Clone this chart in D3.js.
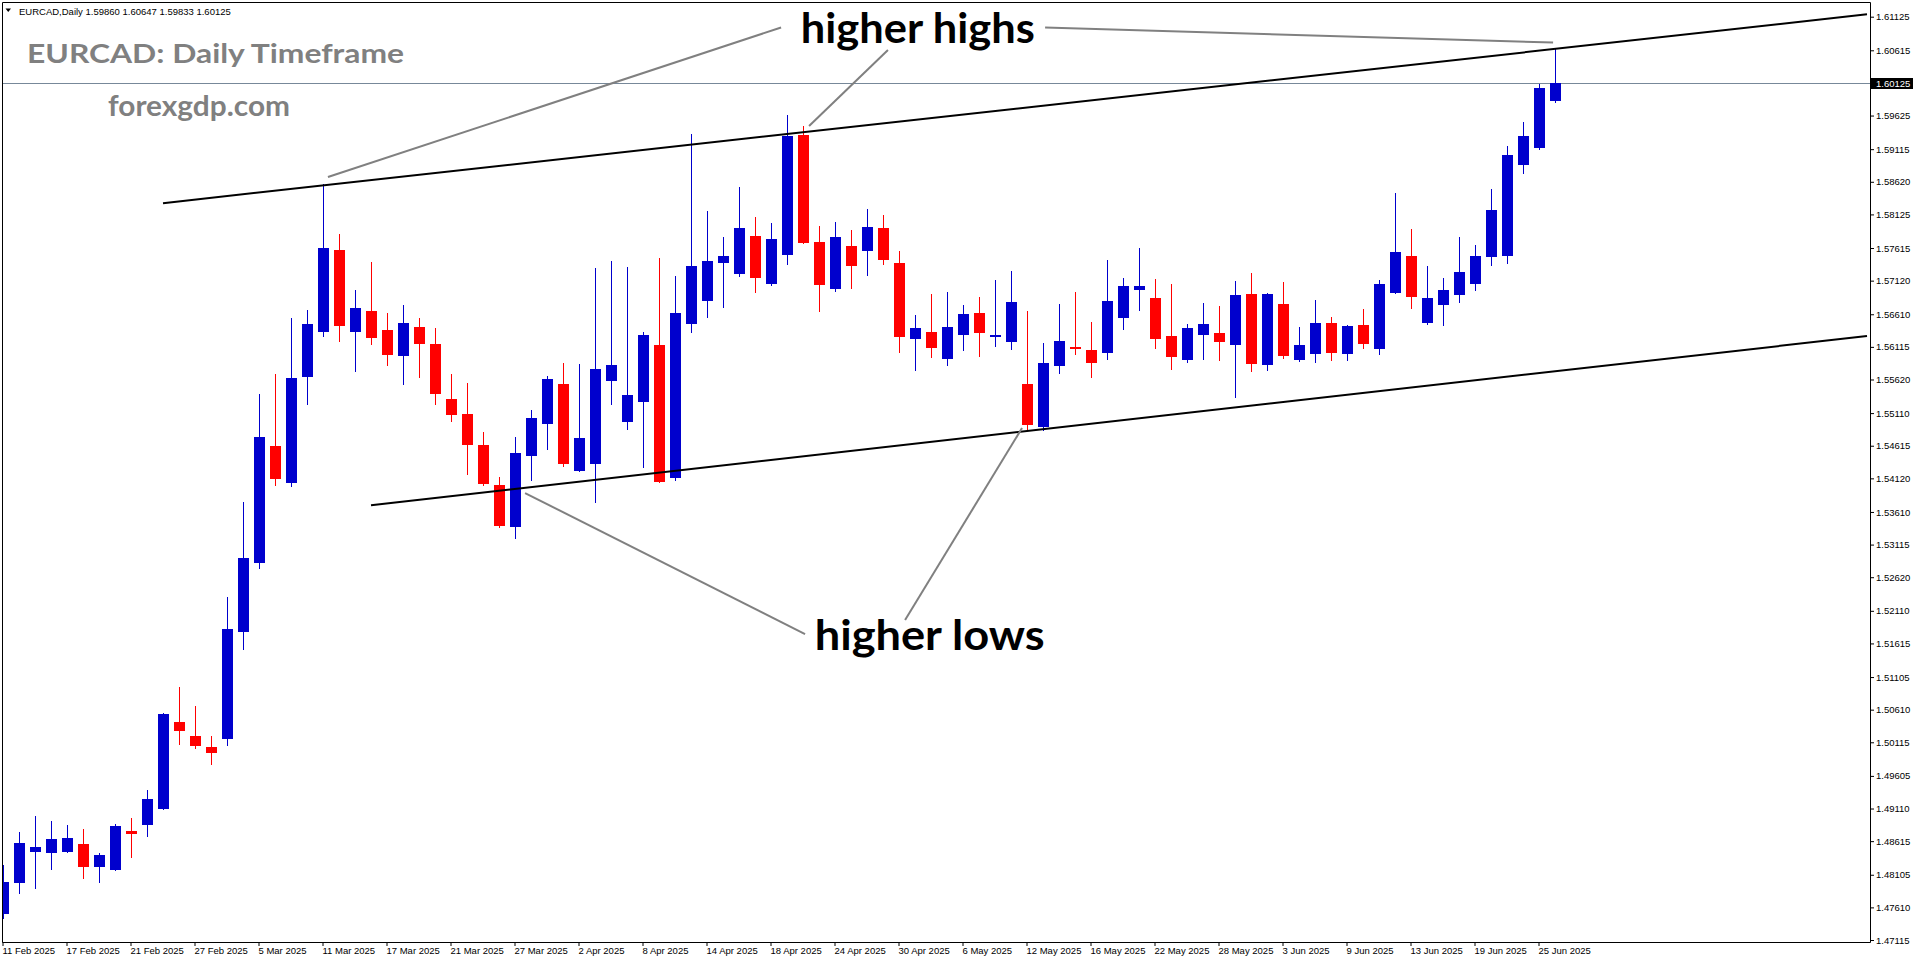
<!DOCTYPE html>
<html><head><meta charset="utf-8">
<script src="https://cdn.jsdelivr.net/npm/d3@7/dist/d3.min.js"></script>
<style>html,body{margin:0;padding:0;background:#fff;overflow:hidden}</style>
</head><body>
<svg id="chart" width="1916" height="964"></svg>
<script>
// ---------------- DATA ----------------
const headerText = "EURCAD,Daily  1.59860 1.60647 1.59833 1.60125";
const titleText = "EURCAD: Daily Timeframe";
const siteText = "forexgdp.com";

const open = [1.47528,1.47998,1.48469,1.48454,1.48469,1.48570,1.48241,1.48196,1.48768,1.48878,
1.49121,1.50422,1.50209,1.50042,1.50179,1.51810,1.52853,1.54610,1.54071,1.55680,
1.56361,1.57584,1.56361,1.56659,1.56370,1.55998,1.56416,1.56158,1.55323,1.55096,
1.54625,1.54018,1.53401,1.54478,1.54964,1.55551,1.54250,1.54357,1.55616,1.54994,
1.55297,1.56143,1.54144,1.56481,1.56826,1.57402,1.57235,1.57797,1.57084,1.57524,
1.59329,1.57706,1.57008,1.57645,1.57584,1.57918,1.57387,1.56249,1.56340,1.55945,
1.56310,1.56628,1.56284,1.56208,1.55551,1.54913,1.55839,1.56112,1.56067,1.56036,
1.56568,1.56992,1.56856,1.56279,1.55930,1.56310,1.56325,1.56158,1.56917,1.55854,
1.56765,1.55930,1.56021,1.56477,1.56021,1.56446,1.56097,1.56947,1.57493,1.56492,
1.56765,1.56917,1.57084,1.57493,1.57508,1.58889,1.59147,1.59860];

const high = [1.48252,1.48752,1.48995,1.48919,1.48859,1.48798,1.48434,1.48874,1.48965,1.49390,
1.50558,1.50953,1.50664,1.50209,1.52320,1.53757,1.55398,1.55701,1.56552,1.56674,
1.58586,1.57830,1.56977,1.57404,1.56627,1.56750,1.56552,1.56396,1.55703,1.55561,
1.54822,1.54140,1.54747,1.55156,1.55672,1.55870,1.55854,1.57311,1.57417,1.57326,
1.56340,1.57463,1.57190,1.59345,1.58176,1.57782,1.58540,1.58085,1.57994,1.59633,
1.59466,1.57948,1.58009,1.57888,1.58206,1.58115,1.57569,1.56598,1.56917,1.56947,
1.56750,1.56871,1.57129,1.57266,1.56659,1.56173,1.56765,1.56947,1.56492,1.57433,
1.57159,1.57615,1.57144,1.57068,1.56461,1.56780,1.56734,1.57114,1.57235,1.56932,
1.57099,1.56416,1.56826,1.56568,1.56446,1.56689,1.57129,1.58449,1.57903,1.57341,
1.57159,1.57782,1.57660,1.58510,1.59162,1.59527,1.60103,1.60647];

const low = [1.47447,1.47831,1.47907,1.48196,1.48454,1.48059,1.47998,1.48176,1.48378,1.48696,
1.49101,1.50092,1.50032,1.49784,1.50073,1.51533,1.52757,1.54024,1.54008,1.55253,
1.56285,1.56206,1.55754,1.56164,1.55844,1.55557,1.55662,1.55252,1.54994,1.54190,
1.54023,1.53385,1.53218,1.54099,1.54569,1.54311,1.54231,1.53765,1.55252,1.54872,
1.54296,1.54068,1.54099,1.56344,1.56568,1.56719,1.57190,1.56947,1.57053,1.57372,
1.57690,1.56659,1.56962,1.57008,1.57205,1.57372,1.56036,1.55763,1.55961,1.55839,
1.56067,1.55976,1.56127,1.56087,1.54868,1.54853,1.55718,1.56006,1.55662,1.55930,
1.56385,1.56674,1.56097,1.55778,1.55885,1.55930,1.55915,1.55354,1.55748,1.55763,
1.55945,1.55900,1.55885,1.55915,1.55915,1.56097,1.56006,1.56932,1.56704,1.56461,
1.56446,1.56795,1.56977,1.57357,1.57387,1.58753,1.59117,1.59833];

const close = [1.47994,1.48586,1.48525,1.48646,1.48661,1.48241,1.48403,1.48843,1.48737,1.49253,
1.50543,1.50305,1.50077,1.49966,1.51831,1.52912,1.54748,1.54130,1.55642,1.56461,
1.57616,1.56451,1.56707,1.56270,1.56009,1.56478,1.56178,1.55419,1.55100,1.54645,
1.54053,1.53416,1.54504,1.55035,1.55627,1.54357,1.54731,1.55778,1.55839,1.55384,
1.56294,1.54083,1.56628,1.57341,1.57417,1.57493,1.57918,1.57175,1.57751,1.59314,
1.57706,1.57068,1.57782,1.57357,1.57933,1.57448,1.56279,1.56401,1.56112,1.56416,
1.56613,1.56340,1.56294,1.56795,1.54944,1.55870,1.56203,1.56102,1.55885,1.56810,
1.57038,1.57038,1.56249,1.55976,1.56401,1.56461,1.56203,1.56901,1.55870,1.56917,
1.55991,1.56143,1.56477,1.56036,1.56431,1.56173,1.57068,1.57554,1.56886,1.56856,
1.56977,1.57250,1.57493,1.58191,1.59026,1.59314,1.60043,1.60125];

// trading days (weekdays) 11 Feb 2025 .. 26 Jun 2025
const dates = d3.timeDay.range(new Date(2025,1,11), new Date(2025,5,27))
  .filter(d => d.getDay() !== 0 && d.getDay() !== 6);

const xTickLabels = ["11 Feb 2025","17 Feb 2025","21 Feb 2025","27 Feb 2025","5 Mar 2025","11 Mar 2025",
"17 Mar 2025","21 Mar 2025","27 Mar 2025","2 Apr 2025","8 Apr 2025","14 Apr 2025","18 Apr 2025",
"24 Apr 2025","30 Apr 2025","6 May 2025","12 May 2025","16 May 2025","22 May 2025","28 May 2025",
"3 Jun 2025","9 Jun 2025","13 Jun 2025","19 Jun 2025","25 Jun 2025"];
const xTickIndex = xTickLabels.map((_, k) => k * 4);

const yTickLabels = ["1.61125","1.60615","1.59625","1.59115","1.58620","1.58125","1.57615","1.57120",
"1.56610","1.56115","1.55620","1.55110","1.54615","1.54120","1.53610","1.53115","1.52620","1.52110",
"1.51615","1.51105","1.50610","1.50115","1.49605","1.49110","1.48615","1.48105","1.47610","1.47115"];

const currentPrice = 1.60125;

// channel trendlines: anchor (bar index, price), extended to the right
const trendLines = [
  {i1: 10, p1: 1.58296, i2: 97, p2: 1.60636},
  {i1: 23, p1: 1.53713, i2: 97, p2: 1.55744}
];
// grey pointer lines (bar index, price)
const pointers = [
  {i1: 20.31, p1: 1.58692, i2: 48.63, p2: 1.60961},
  {i1: 55.31, p1: 1.60619, i2: 50.38, p2: 1.59466},
  {i1: 65.13, p1: 1.60961, i2: 96.88, p2: 1.60733},
  {i1: 50.13, p1: 1.51757, i2: 32.63, p2: 1.53897},
  {i1: 56.38, p1: 1.51970, i2: 63.69, p2: 1.54883}
];
const annotations = [
  {text: "higher highs", i: 49.86, p: 1.60721, len: 234},
  {text: "higher lows",  i: 50.73, p: 1.51514, len: 230}
];

// ---------------- DRAW ----------------
const W = 1916, H = 964;
const L = 3, R = 1870, T = 3, B = 942;
const svg = d3.select("#chart");
const axisFont = "'Liberation Sans', Arial, sans-serif";

const x = d3.scaleBand().domain(dates).range([-5, -5 + 16 * dates.length]).padding(0);
const xi = d3.scaleLinear().domain([0, dates.length]).range([-5 + 8, -5 + 8 + 16 * dates.length]);
const y = d3.scaleLinear().domain([1.47115, 1.61125]).range([940, 16.7]);

svg.append("rect").attr("width", W).attr("height", H).attr("fill", "#fff");

svg.append("defs").append("clipPath").attr("id", "plot")
  .append("rect").attr("x", L).attr("y", T).attr("width", R - L).attr("height", B - T);

const plot = svg.append("g").attr("clip-path", "url(#plot)");

// current price line
plot.append("line").attr("x1", L).attr("x2", R)
  .attr("y1", Math.round(y(currentPrice)) + 0.5).attr("y2", Math.round(y(currentPrice)) + 0.5)
  .attr("stroke", "#778899").attr("stroke-width", 1);

// candles
const candles = dates.map((d, i) => ({d, o: open[i], h: high[i], l: low[i], c: close[i]}));
const cg = plot.append("g");
candles.forEach(k => {
  const cx = x(k.d) + x.bandwidth() / 2;
  const col = k.c >= k.o ? "#0000CD" : "#FF0000";
  const yh = Math.round(y(k.h)), yl = Math.round(y(k.l));
  const yt = Math.round(y(Math.max(k.o, k.c))), yb = Math.round(y(Math.min(k.o, k.c)));
  cg.append("rect").attr("x", cx).attr("y", yh).attr("width", 1).attr("height", Math.max(1, yl - yh + 1)).attr("fill", col);
  cg.append("rect").attr("x", cx - 5).attr("y", yt).attr("width", 11).attr("height", Math.max(1, yb - yt + 1)).attr("fill", col);
});

// trendlines
trendLines.forEach(t => {
  const slope = (t.p2 - t.p1) / (t.i2 - t.i1);
  const iEnd = xi.invert(R + 5) - 0.5;
  plot.append("line")
    .attr("x1", xi(t.i1)).attr("y1", y(t.p1))
    .attr("x2", xi(iEnd)).attr("y2", y(t.p1 + slope * (iEnd - t.i1)))
    .attr("stroke", "#000").attr("stroke-width", 2);
});

// pointers
pointers.forEach(p => {
  plot.append("line")
    .attr("x1", xi(p.i1)).attr("y1", y(p.p1)).attr("x2", xi(p.i2)).attr("y2", y(p.p2))
    .attr("stroke", "#808080").attr("stroke-width", 2);
});

// annotation texts
annotations.forEach(a => {
  plot.append("text").attr("x", xi(a.i)).attr("y", y(a.p))
    .attr("font-family", "Lato, 'Open Sans', sans-serif").attr("font-weight", 700)
    .attr("font-size", 42).attr("fill", "#000")
    .attr("textLength", a.len).attr("lengthAdjust", "spacingAndGlyphs")
    .text(a.text);
});

// title & site
svg.append("text").attr("x", 27).attr("y", 63)
  .attr("font-family", "Lato, sans-serif").attr("font-weight", 700).attr("font-size", 27)
  .attr("fill", "#808080").attr("textLength", 377).attr("lengthAdjust", "spacingAndGlyphs").text(titleText);
svg.append("text").attr("x", 108).attr("y", 116)
  .attr("font-family", "Lato, sans-serif").attr("font-weight", 700).attr("font-size", 28)
  .attr("fill", "#808080").attr("textLength", 182).attr("lengthAdjust", "spacingAndGlyphs").text(siteText);

// header
svg.append("path").attr("d", "M5.5,8.5 L11,8.5 L8.25,12 Z").attr("fill", "#000");
svg.append("text").attr("x", 19).attr("y", 14.5).attr("font-family", axisFont)
  .attr("font-size", 9.5).attr("fill", "#000").text(headerText);

// frame
svg.append("path")
  .attr("d", `M${L - 0.5},${B + 0.5} V${T - 0.5} H${R + 0.5} V${B + 0.5} Z`)
  .attr("fill", "none").attr("stroke", "#000").attr("stroke-width", 1);

// Y axis (right)
const yAxis = d3.axisRight(y)
  .tickValues(yTickLabels.map(Number))
  .tickFormat((d, i) => yTickLabels[i])
  .tickSize(4).tickSizeOuter(0).tickPadding(2);
const yg = svg.append("g").attr("transform", `translate(${R},0)`).call(yAxis);
yg.select(".domain").remove();
yg.selectAll(".tick line").attr("stroke", "#000");
yg.selectAll(".tick text").attr("font-family", axisFont).attr("font-size", 9.5).attr("fill", "#000");

// current price label
const cpY = Math.round(y(currentPrice));
svg.append("rect").attr("x", R + 1).attr("y", cpY - 5).attr("width", 42).attr("height", 11).attr("fill", "#000");
svg.append("text").attr("x", R + 6).attr("y", cpY + 0.5).attr("dy", "0.34em")
  .attr("font-family", axisFont).attr("font-size", 9.5).attr("fill", "#fff").text(d3.format(".5f")(currentPrice));

// X axis (bottom)
const xAxis = d3.axisBottom(x)
  .tickValues(xTickIndex.map(i => dates[i]))
  .tickFormat((d, k) => xTickLabels[k])
  .tickSize(4).tickSizeOuter(0).tickPadding(1.5);
const xg = svg.append("g").attr("transform", `translate(0,${B})`).call(xAxis);
xg.select(".domain").remove();
xg.selectAll(".tick line").attr("stroke", "#000");
xg.selectAll(".tick text").attr("font-family", axisFont).attr("font-size", 9.5).attr("fill", "#000")
  .attr("text-anchor", "start").attr("x", -0.5);
</script>
</body></html>
